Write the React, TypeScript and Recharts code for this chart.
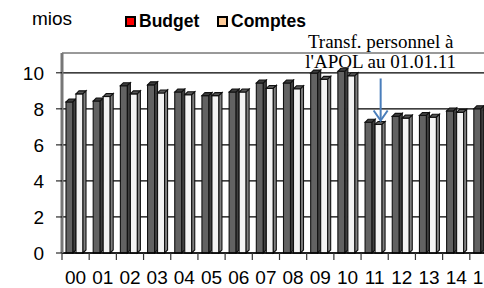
import { Bar, BarChart, CartesianGrid, ReferenceDot, ReferenceLine, XAxis, YAxis } from "recharts";

const YEARS = ["00", "01", "02", "03", "04", "05", "06", "07", "08", "09", "10", "11", "12", "13", "14", "15"];
const BUDGET = [8.55, 8.6, 9.45, 9.5, 9.1, 8.9, 9.1, 9.6, 9.6, 10.15, 10.25, 7.42, 7.75, 7.8, 8.05, 8.17];
const COMPTES = [9.0, 8.85, 9.0, 9.05, 8.95, 8.9, 9.1, 9.3, 9.28, 9.8, 10.0, 7.3, 7.65, 7.7, 7.97, 8.1];
const Y_TICKS = [0, 2, 4, 6, 8, 10];
const Y_MAX = 11.1;

const ARIAL = "'Liberation Sans', Arial, sans-serif";
const TIMES = "'Liberation Serif', 'Times New Roman', serif";
const ARROW_BLUE = "#4A7EBB";

const CHART_W = 520;
const CHART_H = 288;
const MARGIN = { top: 53, right: 23, bottom: 5, left: 0 };
const YAXIS_W = 62;
const BAND = (CHART_W - MARGIN.left - MARGIN.right - YAXIS_W) / YEARS.length;

const data = YEARS.map((year, i) => ({ year, budget: BUDGET[i], comptes: COMPTES[i] }));

function make3DBar(front: string, top: string, side: string) {
  return (props: any) => {
    const { x = 0, y = 0, width = 0, height = 0 } = props;
    const d = 3;
    const w = width - d;
    return (
      <g stroke="#111" strokeWidth={1.1}>
        <rect x={x} y={y + d} width={w} height={Math.max(0, height - d)} fill={front} />
        <polygon points={`${x},${y + d} ${x + d},${y} ${x + w + d},${y} ${x + w},${y + d}`} fill={top} />
        <polygon
          points={`${x + w},${y + d} ${x + w + d},${y} ${x + w + d},${y + height - d} ${x + w},${y + height}`}
          fill={side}
        />
      </g>
    );
  };
}

const BudgetShape = make3DBar("#626262", "#3c3c3c", "#404040");
const ComptesShape = make3DBar("#f3f3f3", "#555555", "#7f7f7f");

const XTick = ({ x = 0, y = 0, payload }: any) => (
  <g>
    <line x1={x - BAND / 2} x2={x - BAND / 2} y1={y - 7} y2={y} stroke="#333" strokeWidth={1.2} />
    <text x={x} y={y + 24} textAnchor="middle" fontSize={19} fontFamily={ARIAL} fill="#000">
      {payload.value}
    </text>
  </g>
);

const Annotation = ({ cx = 0, cy = 0 }: any) => {
  const ax = cx + 6;
  return (
    <g>
      <text x={ax} y={cy - 73} textAnchor="middle" fontSize={19} fontFamily={TIMES} fill="#000">
        Transf. personnel à
      </text>
      <text x={ax} y={cy - 53.5} textAnchor="middle" fontSize={19} fontFamily={TIMES} fill="#000">
        l'APOL au 01.01.11
      </text>
      <line x1={ax} x2={ax} y1={cy - 43} y2={cy - 1} stroke={ARROW_BLUE} strokeWidth={2} />
      <polyline
        points={`${ax - 7},${cy - 11} ${ax},${cy - 1} ${ax + 7},${cy - 11}`}
        fill="none"
        stroke={ARROW_BLUE}
        strokeWidth={2}
      />
    </g>
  );
};

function LegendItem({ color, label, left }: { color: string; label: string; left: number }) {
  return (
    <div style={{ position: "absolute", left, top: 13, display: "flex", alignItems: "center" }}>
      <div
        style={{
          width: 7,
          height: 7,
          border: "2px solid #000",
          background: color,
          marginRight: 3,
        }}
      />
      <span style={{ fontFamily: ARIAL, fontWeight: 700, fontSize: 17.5, lineHeight: "17.5px" }}>{label}</span>
    </div>
  );
}

export default function App() {
  return (
    <div
      style={{
        position: "absolute",
        left: 0,
        top: 0,
        width: 484,
        height: 288,
        overflow: "hidden",
        background: "#fff",
      }}
    >
      <div
        style={{
          position: "absolute",
          left: 32,
          top: 9,
          fontFamily: ARIAL,
          fontSize: 19,
          lineHeight: "19px",
        }}
      >
        mios
      </div>
      <LegendItem color="#FF0000" label="Budget" left={125} />
      <LegendItem color="#FFCC99" label="Comptes" left={217} />

      <BarChart
        width={CHART_W}
        height={CHART_H}
        data={data}
        margin={MARGIN}
        barSize={10}
        barGap={0}
        style={{ position: "absolute", left: 0, top: 0 }}
      >
        <CartesianGrid vertical={false} stroke="#000" strokeWidth={1.2} />
        <ReferenceLine y={Y_MAX} stroke="#999" strokeWidth={2} />
        <XAxis
          dataKey="year"
          height={30}
          interval={0}
          tickSize={7}
          tickMargin={0}
          tickLine={false}
          axisLine={{ stroke: "#000", strokeWidth: 1.5 }}
          tick={<XTick />}
        />
        <YAxis
          width={YAXIS_W}
          domain={[0, Y_MAX]}
          ticks={Y_TICKS}
          tickSize={6}
          tickMargin={12}
          tickLine={{ stroke: "#000" }}
          axisLine={{ stroke: "#777", strokeWidth: 3 }}
          tick={{ fontSize: 19, fontFamily: ARIAL, fill: "#000" }}
        />
        <Bar dataKey="budget" shape={BudgetShape} isAnimationActive={false} />
        <Bar dataKey="comptes" shape={ComptesShape} isAnimationActive={false} />
        <ReferenceDot x="11" y={COMPTES[11]} ifOverflow="visible" shape={<Annotation />} />
      </BarChart>
    </div>
  );
}
